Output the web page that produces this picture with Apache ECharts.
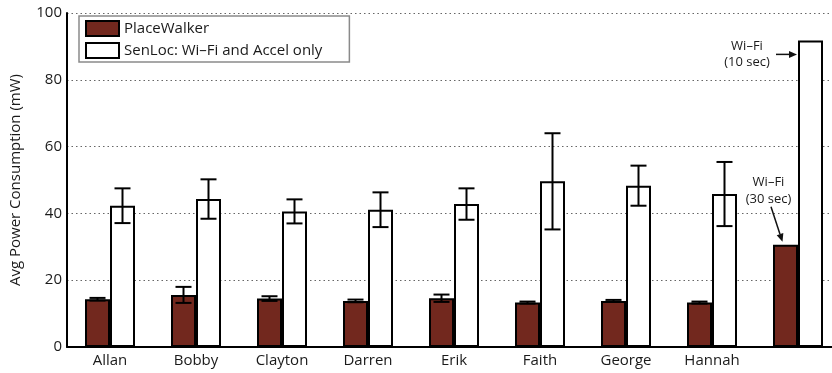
<!DOCTYPE html>
<html>
<head>
<meta charset="utf-8">
<script src="https://cdn.jsdelivr.net/npm/echarts@6/dist/echarts.min.js"></script>
<style>
  html, body { margin: 0; padding: 0; background: #fff; overflow: hidden; }
  /* the plot frame runs slightly past the right edge of the window */
  #chart { width: 841px; height: 373px; }
</style>
</head>
<body>
<div id="chart"></div>
<script>
// Average power consumption per participant (mW)
const categories = ['Allan', 'Bobby', 'Clayton', 'Darren', 'Erik', 'Faith', 'George', 'Hannah', ''];
const placeWalkerMean = [14.3, 15.6, 14.5, 13.8, 14.6, 13.3, 13.8, 13.3, 30.6];
const placeWalkerErr  = [0.4, 2.4, 0.7, 0.4, 1.1, 0.3, 0.3, 0.3, 0];
const senLocMean = [42.3, 44.3, 40.6, 41.1, 42.8, 49.6, 48.3, 45.8, 91.8];
const senLocErr  = [5.2, 5.9, 3.6, 5.2, 4.7, 14.4, 6.0, 9.6, 0];
const yTicks = { min: 0, max: 100, step: 20 };

const FONT = '"Open Sans", "Noto Sans", sans-serif';
const PW_COLOR = '#72281e';
const BAR_W = 25;

// error bar rows: [category index, mean, error, side(-1 left bar, +1 right bar)]
const errRows = [];
categories.forEach((c, i) => {
  if (placeWalkerErr[i] > 0) errRows.push([i, placeWalkerMean[i], placeWalkerErr[i], -1]);
  if (senLocErr[i] > 0) errRows.push([i, senLocMean[i], senLocErr[i], 1]);
});

const last = categories.length - 1;

const chart = echarts.init(document.getElementById('chart'), null, { renderer: 'canvas' });

function arrow(x1, y1, x2, y2) {
  const a = Math.atan2(y2 - y1, x2 - x1);
  const L = 8, W = 3.5;
  const bx = x2 - L * Math.cos(a), by = y2 - L * Math.sin(a);
  const px = -Math.sin(a) * W, py = Math.cos(a) * W;
  return [
    { type: 'line', shape: { x1: x1, y1: y1, x2: bx, y2: by }, style: { stroke: '#111', lineWidth: 1.5 } },
    { type: 'polygon', shape: { points: [[x2, y2], [bx + px, by + py], [bx - px, by - py]] }, style: { fill: '#111' } }
  ];
}

chart.setOption({
  animation: false,
  backgroundColor: '#fff',
  grid: { left: 67, right: 0, top: 13, bottom: 26 },
  legend: {
    left: 79, top: 16,
    orient: 'vertical',
    padding: [4, 27, 3, 6],
    itemGap: 5,
    itemWidth: 33,
    itemHeight: 15,
    backgroundColor: '#fff',
    borderColor: '#8a8a8a',
    borderWidth: 1.5,
    textStyle: { fontFamily: FONT, fontSize: 15, color: '#1a1a1a' },
    data: [
      { name: 'PlaceWalker', icon: 'rect', itemStyle: { color: PW_COLOR, borderColor: '#000', borderWidth: 2 } },
      { name: 'SenLoc: Wi–Fi and Accel only', icon: 'rect', itemStyle: { color: '#fff', borderColor: '#000', borderWidth: 2 } }
    ]
  },
  xAxis: {
    type: 'category',
    data: categories,
    axisLine: { lineStyle: { color: '#000', width: 2 } },
    axisTick: { show: false },
    axisLabel: { fontFamily: FONT, fontSize: 15, color: '#1a1a1a', margin: 6 }
  },
  yAxis: {
    type: 'value',
    min: yTicks.min, max: yTicks.max, interval: yTicks.step,
    name: 'Avg Power Consumption (mW)',
    nameLocation: 'middle',
    nameGap: 44,
    nameTextStyle: { fontFamily: FONT, fontSize: 15, color: '#1a1a1a' },
    axisLine: { show: true, lineStyle: { color: '#000', width: 2 } },
    axisTick: { show: false },
    axisLabel: { fontFamily: FONT, fontSize: 15, color: '#1a1a1a', margin: 5 },
    splitLine: { show: true, lineStyle: { color: '#666', type: [1.5, 3], width: 1 } }
  },
  series: [
    {
      name: 'PlaceWalker', type: 'bar', data: placeWalkerMean,
      barWidth: BAR_W, barGap: '0%',
      itemStyle: { color: PW_COLOR, borderColor: '#000', borderWidth: 2 }
    },
    {
      name: 'SenLoc: Wi–Fi and Accel only', type: 'bar', data: senLocMean,
      barWidth: BAR_W, barGap: '0%',
      itemStyle: { color: '#fff', borderColor: '#000', borderWidth: 2 }
    },
    {
      // error bars
      type: 'custom', z: 5, silent: true,
      data: errRows,
      renderItem: function (params, api) {
        const i = api.value(0), m = api.value(1), e = api.value(2), side = api.value(3);
        const cx = api.coord([i, m])[0] + side * BAR_W / 2;
        const yT = api.coord([i, m + e])[1];
        const yB = api.coord([i, m - e])[1];
        const hw = 8;
        const st = { stroke: '#000', lineWidth: 2 };
        return {
          type: 'group',
          children: [
            { type: 'line', shape: { x1: cx, y1: yT, x2: cx, y2: yB }, style: st },
            { type: 'line', shape: { x1: cx - hw, y1: yT, x2: cx + hw, y2: yT }, style: st },
            { type: 'line', shape: { x1: cx - hw, y1: yB, x2: cx + hw, y2: yB }, style: st }
          ]
        };
      }
    },
    {
      // Wi-Fi scan interval notes on the last group
      type: 'custom', z: 6, silent: true,
      data: [[last, placeWalkerMean[last], senLocMean[last]]],
      renderItem: function (params, api) {
        const i = api.value(0);
        const pTop = api.coord([i, api.value(1)]);
        const sTop = api.coord([i, api.value(2)]);
        const cx = pTop[0];
        const pwX = cx - BAR_W / 2;
        const ts = (t, x, y) => ({ type: 'text', style: { text: t, x: x, y: y, align: 'center', verticalAlign: 'middle', font: '13px ' + FONT, fill: '#1a1a1a' } });
        const kids = [
          ts('Wi–Fi', cx - 51, sTop[1] + 6),
          ts('(10 sec)', cx - 51, sTop[1] + 22),
          ...arrow(cx - 22, sTop[1] + 14, cx - 1, sTop[1] + 14),
          ts('Wi–Fi', pwX - 17, pTop[1] - 62),
          ts('(30 sec)', pwX - 17, pTop[1] - 45),
          ...arrow(pwX - 14.5, pTop[1] - 38, pwX - 3, pTop[1] - 3)
        ];
        return { type: 'group', children: kids };
      }
    }
  ]
});
</script>
</body>
</html>
